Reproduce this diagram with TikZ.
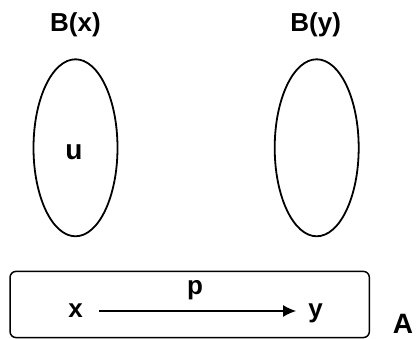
\documentclass[tikz,border=0pt]{standalone}
\usepackage{fontspec}
\setmainfont{Liberation Sans}
\usetikzlibrary{shapes.geometric,arrows.meta}

\tikzset{
  lbl/.style={font=\fontsize{26}{30}\selectfont\bfseries, inner sep=0pt, anchor=base},
  fibre/.style={draw, line width=1.8pt, ellipse, minimum width=84pt, minimum height=177pt},
}

\begin{document}
\begin{tikzpicture}[x=1pt,y=1pt]
\useasboundingbox (0,0) rectangle (416,339);

% the two fibres
\node[fibre] (Bx) at (75.5,191.2) {};
\node[fibre] (By) at (316.7,191.2) {};
\node[lbl] (Bxlabel) at (75.5,307.5) {B(x)};
\node[lbl] (Bylabel) at (315.7,307.5) {B(y)};
\node[lbl, font=\fontsize{28}{32}\selectfont\bfseries] (u) at (74,179) {u};

% the base space
\node[draw, line width=1.5pt, rounded corners=6pt, minimum width=359.3pt, minimum height=66.2pt] (base) at (189.7,34.5) {};
\node[lbl] (x) at (75.5,21.3) {x};
\node[lbl] (y) at (315.5,21.3) {y};
\node[lbl] (p) at (195,44) {p};
\node[lbl, font=\fontsize{28}{32}\selectfont\bfseries] (A) at (403,5.5) {A};

\draw[line width=1.4pt, -{Latex[length=13pt,width=12pt]}, shorten <=16pt, shorten >=12pt] (x.east |- 0,28) -- (y.west |- 0,28);
\end{tikzpicture}
\end{document}
